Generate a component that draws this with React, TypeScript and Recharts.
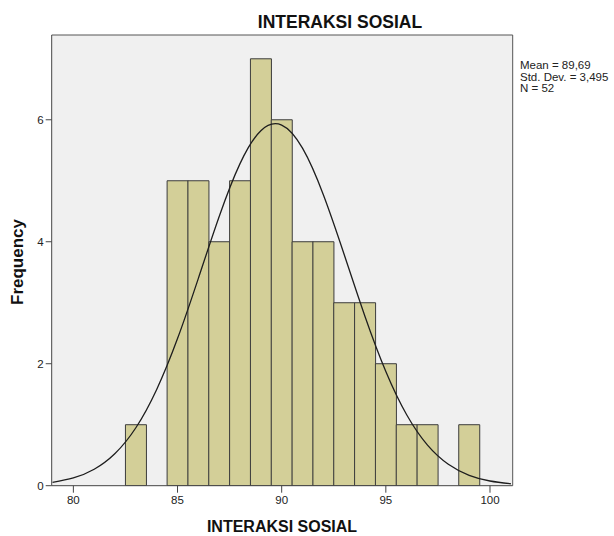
import React from 'react';
import { ComposedChart, Bar, Line, XAxis, YAxis, CartesianGrid } from 'recharts';

const scores = [79, 80, 81, 82, 83, 84, 85, 86, 87, 88, 89, 90, 91, 92, 93, 94, 95, 96, 97, 98, 99, 100, 101];
const frequencies: (number | null)[] = [null, null, null, null, 1, null, 5, 5, 4, 5, 7, 6, 4, 4, 3, 3, 2, 1, 1, null, 1, null, null];
const normalCurve = [0.055, 0.127, 0.27, 0.528, 0.95, 1.578, 2.412, 3.4, 4.414, 5.281, 5.821, 5.913, 5.534, 4.771, 3.791, 2.775, 1.872, 1.163, 0.666, 0.352, 0.171, 0.077, 0.032];
const xTicks = [80, 85, 90, 95, 100];
const yTicks = [0, 2, 4, 6];
const statLines = ['Mean = 89,69', 'Std. Dev. = 3,495', 'N = 52'];
const titleText = 'INTERAKSI SOSIAL';
const xLabel = 'INTERAKSI SOSIAL';
const yLabel = 'Frequency';

const data = scores.map((s, i) => ({ score: s, freq: frequencies[i], curve: normalCurve[i] }));

const font = "Arial, 'Liberation Sans', sans-serif";
const axisColor = '#444';

export default function App() {
  return (
    <div style={{ position: 'absolute', left: 0, top: 0, width: 614, height: 536, background: '#fff', fontFamily: font }}>
      <ComposedChart
        width={614}
        height={536}
        data={data}
        margin={{ top: 35, right: 101.3, bottom: 0, left: 0 }}
        barCategoryGap={0}
        barGap={0}
      >
        <CartesianGrid
          fill="#f0f0f0"
          stroke="#555"
          horizontalCoordinatesGenerator={({ offset }: any) => [offset.top]}
          verticalCoordinatesGenerator={({ offset }: any) => [offset.left + offset.width]}
        />
        <XAxis
          dataKey="score"
          type="number"
          domain={[78.96, 101.09]}
          allowDataOverflow
          ticks={xTicks}
          height={50.3}
          tickSize={7}
          tickMargin={3}
          stroke={axisColor}
          tick={{ fontSize: 11.5, fill: '#222', fontFamily: font }}
          tickLine={{ stroke: axisColor }}
          axisLine={{ stroke: axisColor }}
        />
        <YAxis
          type="number"
          domain={[0, 7.39]}
          allowDataOverflow
          ticks={yTicks}
          width={51.7}
          tickSize={6}
          tickMargin={2}
          stroke={axisColor}
          tick={{ fontSize: 11.5, fill: '#222', fontFamily: font }}
          tickLine={{ stroke: axisColor }}
          axisLine={{ stroke: axisColor }}
        />
        <Bar dataKey="freq" fill="#d3cf98" stroke="#3c3c3c" strokeWidth={1} isAnimationActive={false} />
        <Line dataKey="curve" type="natural" stroke="#1e1e1e" strokeWidth={1.3} dot={false} activeDot={false} isAnimationActive={false} />
      </ComposedChart>

      <div style={{ position: 'absolute', left: 340, top: 12, transform: 'translateX(-50%)', fontSize: 17.5, fontWeight: 'bold', lineHeight: '20px', whiteSpace: 'nowrap', color: '#111' }}>
        {titleText}
      </div>
      <div style={{ position: 'absolute', left: 282, top: 517, transform: 'translateX(-50%)', fontSize: 16, fontWeight: 'bold', lineHeight: '20px', whiteSpace: 'nowrap', color: '#111' }}>
        {xLabel}
      </div>
      <div style={{ position: 'absolute', left: 18, top: 262, transform: 'translate(-50%, -50%) rotate(-90deg)', fontSize: 17, fontWeight: 'bold', lineHeight: '20px', whiteSpace: 'nowrap', color: '#111' }}>
        {yLabel}
      </div>
      <div style={{ position: 'absolute', left: 520, top: 60, fontSize: 11.5, lineHeight: '11.5px', whiteSpace: 'nowrap', color: '#222' }}>
        {statLines.map((t) => (
          <div key={t}>{t}</div>
        ))}
      </div>
    </div>
  );
}
